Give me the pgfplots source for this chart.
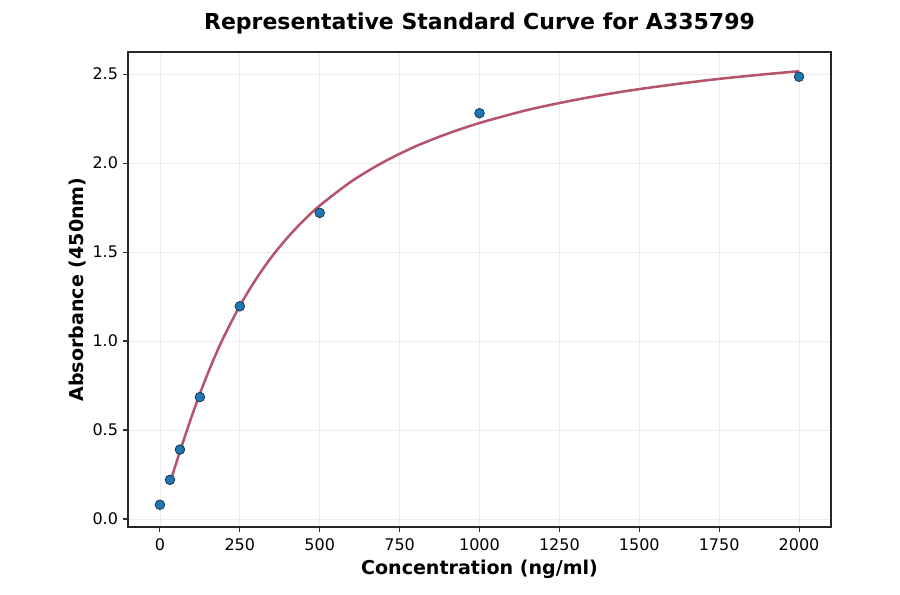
\documentclass[border=0pt]{standalone}
\usepackage{pgfplots}
\pgfplotsset{compat=1.18}
\usepackage{fontspec}
\setmainfont{DejaVu Sans}
\definecolor{ptblue}{HTML}{1F77B4}
\definecolor{ptedge}{HTML}{1B3550}
\definecolor{curvered}{HTML}{B5546A}
\begin{document}
\begin{tikzpicture}
\path[use as bounding box] (-96pt,-50.25pt) rectangle (579pt,395.25pt);
\begin{axis}[
  at={(0,0)}, anchor=south west,
  scale only axis,
  width=527.25pt, height=356.25pt,
  xmin=-100, xmax=2100,
  ymin=-0.045, ymax=2.624,
  xtick={0,250,500,750,1000,1250,1500,1750,2000},
  ytick={0,0.5,1,1.5,2,2.5},
  yticklabel style={/pgf/number format/.cd,fixed,fixed zerofill,precision=1},
  xticklabel style={yshift=-1.5pt,/pgf/number format/.cd,fixed,1000 sep={}},
  /pgf/number format/assume math mode=true,
  tick label style={font=\fontsize{12}{14}\selectfont, black},
  tick align=outside,
  tickwidth=4pt,
  xtick pos=bottom, ytick pos=left,
  major tick style={black!80, line width=0.8pt},
  axis line style={black!85, line width=1pt},
  grid=major,
  grid style={gray!15, line width=0.6pt},
  title={\bfseries Representative Standard Curve for A335799},
  title style={font=\fontsize{16.5}{19}\selectfont, yshift=4pt},
  xlabel={\bfseries Concentration (ng/ml)},
  ylabel={\bfseries Absorbance (450nm)},
  label style={font=\fontsize{14.3}{16}\selectfont},
  xlabel style={yshift=0.5pt},
  ylabel style={yshift=-2pt},
  clip=false,
]
\addplot[only marks, mark=*, mark size=3.6pt,
  mark options={fill=ptblue, draw=ptedge, line width=0.6pt}]
coordinates {
(0,0.08) (31.25,0.22) (62.5,0.39) (125,0.685) (250,1.195) (500,1.72) (1000,2.28) (2000,2.485)
};
\addplot[curvered, line width=1.9pt, smooth, no marks] coordinates {
(31.25,0.203) (45,0.281) (62.5,0.379) (80,0.475) (100,0.580) (125,0.704)
(150,0.819) (175,0.926) (200,1.024) (250,1.198) (300,1.346) (350,1.474)
(400,1.583) (450,1.678) (500,1.761) (600,1.898) (700,2.006) (800,2.094)
(900,2.165) (1000,2.225) (1150,2.298) (1300,2.355) (1450,2.402) (1600,2.440)
(1750,2.473) (1900,2.500) (2000,2.516)
};
\end{axis}
\end{tikzpicture}
\end{document}
